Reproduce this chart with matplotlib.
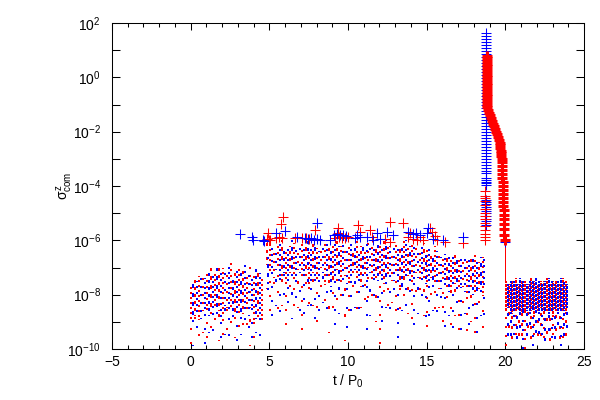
import numpy as np
import matplotlib
matplotlib.use("Agg")
import matplotlib.pyplot as plt
from matplotlib.ticker import FixedLocator, FixedFormatter

plt.rcParams['font.family'] = ['Liberation Sans', 'DejaVu Sans']
plt.rcParams['mathtext.fontset'] = 'custom'
plt.rcParams['mathtext.rm'] = 'Liberation Sans'
plt.rcParams['mathtext.it'] = 'Liberation Sans'
plt.rcParams['mathtext.bf'] = 'Liberation Sans'

# ---------------- data (log10 of sigma^z_com) ----------------
# dot clouds as per-snapshot streaks: t, top of dense part, bottom of dense part, lowest outlier
red_t   = [0.05,0.30,0.55,0.80,1.05,1.30,1.55,1.80,2.05,2.30,2.55,2.80,3.05,3.30,3.55,3.80,4.05,4.30,4.55,4.85,
           5.05,5.30,5.55,5.80,6.05,6.30,6.55,6.80,7.05,7.30,7.55,7.80,8.05,8.30,8.55,8.80,9.05,9.30,9.55,9.80,
           10.05,10.30,10.55,10.80,11.05,11.30,11.55,11.80,12.05,12.30,12.55,12.80,13.05,13.30,13.55,13.80,
           14.05,14.30,14.55,14.80,15.05,15.30,15.55,15.80,16.05,16.30,16.55,16.80,17.05,17.30,17.55,17.80,
           18.05,18.30,18.55]
red_top = [-7.7,-7.4,-7.3,-7.2,-7.1,-7.0,-7.2,-6.9,-7.0,-7.1,-6.8,-7.2,-7.0,-7.1,-7.3,-6.9,-7.2,-7.0,-7.4,-6.0,
           -6.1,-6.3,-6.2,-6.0,-6.4,-6.2,-6.1,-6.3,-6.0,-6.2,-6.4,-6.1,-6.3,-6.2,-6.0,-6.3,-6.1,-6.0,-6.2,-6.4,
           -6.1,-6.3,-6.0,-6.2,-6.4,-6.1,-6.2,-6.3,-6.1,-6.0,-6.2,-6.4,-6.1,-6.2,-6.0,-6.3,
           -6.1,-6.2,-6.4,-6.1,-6.3,-6.5,-6.2,-6.4,-6.6,-6.5,-6.7,-6.5,-6.6,-6.8,-6.6,-6.7,
           -6.5,-6.8,-6.6]
red_mid = [-8.9,-8.8,-8.9,-8.6,-8.5,-8.7,-8.4,-8.6,-8.8,-8.5,-8.3,-8.9,-8.4,-8.7,-8.6,-8.5,-9.0,-8.6,-8.8,-6.9,
           -7.2,-7.4,-7.0,-7.3,-7.6,-7.2,-7.5,-7.1,-7.4,-7.3,-7.8,-7.2,-7.5,-7.0,-7.6,-7.3,-7.4,-7.1,-7.6,-7.3,
           -7.5,-7.2,-7.4,-7.7,-7.3,-7.0,-7.5,-7.4,-7.2,-7.6,-7.3,-7.5,-7.2,-7.7,-7.4,-7.3,
           -7.6,-7.2,-7.5,-7.4,-7.7,-7.4,-7.6,-7.8,-7.5,-7.7,-7.9,-7.6,-7.8,-7.7,-8.0,-7.7,
           -7.9,-7.8,-8.0]
red_bot = [-9.8,-9.5,-9.9,-9.4,-9.6,-9.8,-9.3,-9.7,-9.5,-9.9,-9.4,-9.6,-9.2,-9.7,-9.5,-9.9,-9.6,-9.4,-9.3,-7.8,
           -8.6,-8.2,-8.9,-8.4,-9.1,-8.3,-8.8,-8.5,-9.3,-8.2,-8.7,-8.4,-9.0,-8.3,-8.6,-9.4,-8.5,-8.8,-8.4,-9.7,
           -8.6,-8.3,-8.9,-8.5,-8.2,-8.7,-8.4,-9.0,-9.8,-8.5,-8.8,-8.3,-8.6,-9.1,-8.4,-8.7,
           -8.9,-8.5,-8.2,-8.8,-9.2,-8.6,-8.9,-8.5,-9.0,-8.7,-9.5,-8.8,-9.3,-8.9,-9.7,-9.0,
           -9.4,-8.9,-9.6]

blue_t   = [0.18,0.43,0.68,0.93,1.18,1.43,1.68,1.93,2.18,2.43,2.68,2.93,3.18,3.43,3.68,3.93,4.18,4.43,4.93,
            5.18,5.43,5.68,5.93,6.18,6.43,6.68,6.93,7.18,7.43,7.68,7.93,8.18,8.43,8.68,8.93,9.18,9.43,9.68,9.93,
            10.18,10.43,10.68,10.93,11.18,11.43,11.68,11.93,12.18,12.43,12.68,12.93,13.18,13.43,13.68,13.93,
            14.18,14.43,14.68,14.93,15.18,15.43,15.68,15.93,16.18,16.43,16.68,16.93,17.18,17.43,17.68,17.93,
            18.18,18.43,18.65]
blue_top = [-7.6,-7.5,-7.3,-7.4,-7.1,-7.3,-7.0,-7.2,-7.1,-6.9,-7.3,-7.0,-7.2,-6.9,-7.1,-7.3,-7.0,-7.2,-6.6,
            -6.2,-6.3,-6.1,-6.4,-6.2,-6.0,-6.3,-6.1,-6.2,-6.0,-6.3,-6.1,-6.4,-6.2,-6.0,-6.3,-6.1,-6.2,-6.0,-6.3,
            -6.1,-6.2,-6.4,-6.1,-6.0,-6.3,-6.2,-6.1,-6.3,-6.0,-6.2,-6.1,-6.3,-6.2,-6.0,-6.2,
            -6.1,-6.3,-6.2,-6.4,-6.3,-6.5,-6.4,-6.6,-6.5,-6.6,-6.5,-6.7,-6.6,-6.5,-6.7,-6.6,
            -6.8,-6.6,-6.7]
blue_mid = [-9.0,-8.7,-8.9,-8.6,-8.8,-8.5,-8.7,-8.9,-8.4,-8.6,-8.8,-8.5,-8.9,-8.6,-8.8,-8.5,-8.9,-8.7,-7.6,
            -7.3,-7.1,-7.4,-7.2,-7.5,-7.3,-7.6,-7.2,-7.4,-7.1,-7.5,-7.3,-7.6,-7.2,-7.4,-7.7,-7.3,-7.5,-7.2,-7.6,
            -7.4,-7.1,-7.5,-7.3,-7.6,-7.2,-7.4,-7.5,-7.3,-7.6,-7.2,-7.5,-7.4,-7.6,-7.3,-7.5,
            -7.7,-7.4,-7.3,-7.6,-7.5,-7.7,-7.6,-7.8,-7.7,-7.9,-7.6,-7.8,-7.7,-7.9,-7.8,-8.0,
            -7.8,-7.9,-7.7]
blue_bot = [-9.9,-9.6,-9.5,-9.8,-9.4,-9.7,-9.3,-9.6,-9.5,-9.9,-9.4,-9.7,-9.5,-9.3,-9.8,-9.6,-9.4,-9.9,-8.4,
            -8.8,-8.4,-9.0,-8.6,-8.3,-8.9,-8.5,-9.2,-8.7,-8.4,-8.8,-9.5,-8.6,-8.3,-8.9,-8.5,-9.1,-8.7,-8.4,-9.8,
            -8.6,-8.5,-8.9,-8.3,-9.3,-8.8,-8.4,-8.7,-9.0,-8.5,-8.9,-8.4,-9.6,-8.6,-8.8,-8.5,
            -9.1,-8.7,-8.4,-9.4,-8.8,-8.6,-9.0,-8.7,-9.2,-8.8,-9.6,-8.9,-9.3,-8.7,-9.5,-9.0,
            -9.4,-8.8,-9.1]

# dense late-time block (t > 20)
red_blk_t   = [20.05,20.25,20.45,20.65,20.85,21.05,21.25,21.45,21.65,21.85,
               22.05,22.25,22.45,22.65,22.85,23.05,23.25,23.45,23.65,23.85]
red_blk_top = [-7.5,-7.6,-7.5,-7.4,-7.6,-7.5,-7.5,-7.6,-7.4,-7.5,-7.6,-7.5,-7.5,-7.4,-7.6,-7.5,-7.5,-7.6,-7.4,-7.5]
red_blk_mid = [-8.6,-8.5,-8.7,-8.6,-8.5,-8.7,-8.6,-8.5,-8.6,-8.7,-8.6,-8.5,-8.7,-8.6,-8.5,-8.7,-8.6,-8.5,-8.6,-8.7]
red_blk_bot = [-9.9,-9.6,-9.8,-9.5,-9.9,-9.7,-10.0,-9.6,-9.8,-9.5,-9.9,-9.7,-9.6,-9.8,-9.9,-9.5,-9.7,-9.8,-9.6,-9.9]
blue_blk_t   = [20.15,20.35,20.55,20.75,20.95,21.15,21.35,21.55,21.75,21.95,
                22.15,22.35,22.55,22.75,22.95,23.15,23.35,23.55,23.75,23.95]
blue_blk_top = [-7.6,-7.5,-7.5,-7.6,-7.4,-7.5,-7.6,-7.5,-7.5,-7.4,-7.5,-7.6,-7.5,-7.4,-7.5,-7.6,-7.5,-7.4,-7.5,-7.6]
blue_blk_mid = [-8.5,-8.7,-8.6,-8.5,-8.7,-8.6,-8.6,-8.7,-8.5,-8.6,-8.7,-8.6,-8.5,-8.7,-8.6,-8.5,-8.7,-8.6,-8.6,-8.5]
blue_blk_bot = [-9.7,-9.9,-9.5,-9.8,-9.6,-10.0,-9.7,-9.5,-9.9,-9.6,-9.8,-9.5,-9.9,-9.7,-9.6,-9.8,-9.5,-9.9,-9.7,-9.6]

# red dotted drop at t = 20
drop_t, drop_top, drop_bot = [20.0], [-6.0], [-7.5]

# '+' markers, mid-run
bplus_t = [3.13,3.88,3.98,4.60,4.65,5.42,5.99,6.74,7.27,7.45,7.65,7.85,8.05,8.25,8.00,8.86,9.10,9.30,9.50,9.70,
           9.90,10.45,10.55,10.76,11.19,11.60,11.82,12.03,12.46,12.88,13.83,14.15,14.35,14.58,15.00,15.10,15.42,
           16.06,17.29,19.98]
bplus_v = [-5.77,-5.89,-5.99,-5.98,-6.03,-5.73,-5.66,-5.86,-5.92,-5.95,-5.93,-5.97,-5.95,-5.99,-5.37,-5.99,
           -5.80,-5.78,-5.82,-5.79,-5.83,-5.92,-5.80,-5.86,-5.86,-5.99,-5.74,-5.96,-5.68,-5.80,-5.68,-5.76,-5.74,
           -5.79,-5.74,-5.56,-5.96,-5.99,-5.89,-6.05]
rplus_t = [4.85,4.93,4.95,5.05,5.40,5.60,5.72,5.80,5.89,6.63,7.10,7.30,7.50,7.90,9.20,9.34,9.38,9.40,9.60,9.80,
           10.00,10.66,10.76,11.40,11.50,12.35,12.67,12.67,13.52,13.83,13.94,14.15,14.40,14.58,14.79,15.21,15.32,
           15.53,15.64,16.17,17.29]
rplus_v = [-5.95,-5.74,-6.00,-5.97,-5.90,-5.88,-5.41,-5.92,-5.13,-5.92,-5.92,-5.90,-5.94,-5.62,-5.91,-5.74,
           -5.56,-5.89,-5.93,-5.90,-5.86,-5.43,-5.70,-5.62,-5.86,-5.96,-5.31,-6.05,-5.37,-5.89,-5.74,-5.96,-5.99,
           -5.86,-5.99,-5.56,-5.68,-5.84,-5.99,-6.05,-6.09]

# blue '+' column near t = 18.8
bcol_t = 18.76
bcol_v = [1.62,1.51,1.40,1.30,1.19,1.08,0.97,0.86,0.75,0.64,0.53,0.42,0.31,0.20,0.09,-0.02,-0.13,-0.24,-0.35,
          -0.46,-0.57,-0.68,-0.79,-0.90,-1.01,-1.12,-1.23,-1.34,-1.45,-1.56,-1.67,-1.78,-1.89,-2.00,-2.11,-2.22,
          -2.33,-2.44,-2.55,-2.66,-2.77,-2.88,-2.99,-3.10,-3.21,-3.32,-3.43,-3.53,-3.72,-3.78,-3.84,-3.90,-3.96,
          -4.52,-4.60,-4.68,-4.76,-4.84,-4.92,-5.00,-5.10,-5.20,-5.30,-5.42]
# red '+' low column near t = 18.7
rcol2_t = 18.72
rcol2_v = [-4.20,-4.35,-4.45,-4.55,-4.70,-4.86,-4.98,-5.10,-5.22,-5.35,-5.48,-5.62,-5.75,-5.88,-6.00]
# red '+' decay after the event
rdec_t = [18.85,18.85,18.85,18.85,18.85,18.85,18.85,18.85,18.85,18.85,18.85,18.85,18.85,18.85,18.85,18.85,
          18.85,18.85,18.85,18.86,18.90,18.95,19.02,19.09,19.16,19.23,19.30,19.37,19.43,19.49,19.54,19.59,
          19.63,19.66,19.69,19.71,19.73,19.75,19.76,19.77,19.78,19.79,19.80,19.81,19.82,19.83,19.84,19.85,
          19.86,19.87,19.88,19.89,19.90,19.91,19.92,19.93,19.94,19.95]
rdec_v = [0.80,0.70,0.60,0.50,0.40,0.30,0.20,0.10,0.00,-0.10,-0.20,-0.30,-0.40,-0.50,-0.60,-0.70,-0.80,
          -0.90,-1.00,-1.10,-1.20,-1.30,-1.40,-1.50,-1.60,-1.70,-1.80,-1.90,-2.00,-2.10,-2.20,-2.30,-2.40,
          -2.50,-2.60,-2.70,-2.80,-2.90,-3.00,-3.10,-3.25,-3.40,-3.55,-3.70,-3.85,-4.00,-4.15,-4.30,-4.45,
          -4.60,-4.75,-4.90,-5.05,-5.20,-5.40,-5.60,-5.80,-6.00]

xticks = [-5, 0, 5, 10, 15, 20, 25]
xlabels = ['\u22125', '0', '5', '10', '15', '20', '25']
yticks_exp = [-10, -8, -6, -4, -2, 0, 2]
ylabels = [r'$10^{-10}$', r'$10^{-8}$', r'$10^{-6}$', r'$10^{-4}$', r'$10^{-2}$', r'$10^{0}$', r'$10^{2}$']

# ---------------- plotting ----------------
RED = '#ff0000'
BLUE = '#0000ff'
p = lambda a: np.power(10.0, np.asarray(a, dtype=float))

fig = plt.figure(figsize=(6, 4), dpi=100)
ax = fig.add_axes([112/600, 1-349/400, 472/600, 326/400])

# speckle styles (cycled over the streaks)
dense_styles = [(0, (1, 1.9)), (0.6, (1, 2.8)), (1.3, (1, 1.5)), (0.3, (1, 3.3)), (2.0, (1, 2.3)), (1.0, (2, 2.6))]
sparse_styles = [(0, (1, 6)), (1.5, (1, 9)), (3.0, (1, 7.5)), (0.7, (1, 12))]
LW = 1.44

def streaks(t, lo, hi, color, styles, lw=LW):
    lc = ax.vlines(t, p(lo), p(hi), colors=color, lw=lw, linestyles=styles)
    lc.set_antialiased(False)

streaks(red_t, red_mid, red_top, RED, dense_styles)
streaks(red_t, red_bot, red_mid, RED, sparse_styles)
streaks(blue_t, blue_mid, blue_top, BLUE, dense_styles[::-1])
streaks(blue_t, blue_bot, blue_mid, BLUE, sparse_styles[::-1])

blk_dense = [(0, (1, 0.6)), (0.4, (1, 0.9)), (0.9, (1, 0.5))]
blk_sparse = [(0, (1, 4)), (1.2, (1, 5.5)), (2.1, (1, 4.5))]
streaks(red_blk_t, red_blk_mid, red_blk_top, RED, blk_dense, lw=1.45)
streaks(red_blk_t, red_blk_bot, red_blk_mid, RED, blk_sparse)
streaks(blue_blk_t, blue_blk_mid, blue_blk_top, BLUE, blk_dense[::-1], lw=1.45)
streaks(blue_blk_t, blue_blk_bot, blue_blk_mid, BLUE, blk_sparse[::-1])

streaks(drop_t, drop_bot, drop_top, RED, [(0, (3, 1))], lw=0.72)

ms = 6.5
kw = dict(ls='none', marker='+', ms=ms, mew=0.75, antialiased=False)
ax.plot(rplus_t, p(rplus_v), color=RED, **kw)
ax.plot(bplus_t, p(bplus_v), color=BLUE, **kw)
ax.plot([bcol_t]*len(bcol_v), p(bcol_v), color=BLUE, **kw)
ax.plot([rcol2_t]*len(rcol2_v), p(rcol2_v), color=RED, **kw)
ax.plot(rdec_t, p(rdec_v), ls='none', marker='+', ms=ms, mew=2.2, color=RED, antialiased=False)

ax.set_xlim(-5, 25)
ax.set_yscale('log')
ax.set_ylim(1e-10, 1e2)

ax.xaxis.set_major_locator(FixedLocator(xticks))
ax.xaxis.set_major_formatter(FixedFormatter(xlabels))
ax.xaxis.set_minor_locator(FixedLocator(np.arange(-5, 26, 1)))
ax.yaxis.set_major_locator(FixedLocator(p(yticks_exp)))
ax.yaxis.set_major_formatter(FixedFormatter(ylabels))
ax.yaxis.set_minor_locator(FixedLocator(p([-9, -7, -5, -3, -1, 1])))
ax.yaxis.set_minor_formatter(FixedFormatter([''] * 6))

ax.tick_params(which='both', direction='in', top=True, right=True, width=0.75, labelsize=10, colors='black')
ax.tick_params(axis='x', which='major', length=5, pad=4)
ax.tick_params(axis='x', which='minor', length=2.6)
ax.tick_params(axis='y', which='major', length=5.8, pad=8)
ax.tick_params(axis='y', which='minor', length=5.8)
for s in ax.spines.values():
    s.set_linewidth(0.75)

ax.set_xlabel(r't / P$_0$', fontsize=10, labelpad=3)
ax.set_ylabel(r'$\sigma^{z}_{\rm com}$', fontsize=10, labelpad=-5.5)

fig.savefig('out.png', dpi=100)
